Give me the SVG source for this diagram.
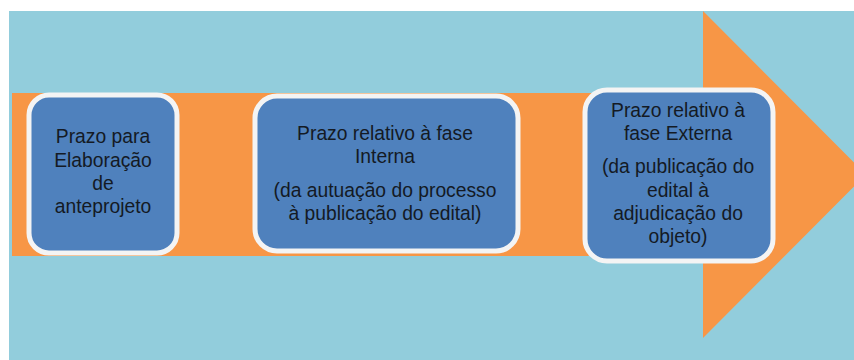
<svg xmlns="http://www.w3.org/2000/svg" width="854" height="360" viewBox="0 0 854 360">
<style>
.box{fill:#4F81BD;stroke:#F4F4F4;stroke-width:5}
.t{font-family:"Liberation Sans",Arial,sans-serif;font-size:19.3px;fill:#141a24;text-anchor:middle}
</style>
<rect x="0" y="0" width="854" height="360" fill="#FFFFFF"/>
<rect x="9" y="11" width="845" height="349" fill="#92CDDC"/>
<g id="arrow">
<polygon points="12,93 703,93 703,11 866,174.5 703,338 703,256 12,256" fill="#F79646"/>
</g>
<g id="connectors"></g>
<g id="node1">
<rect class="box" x="29" y="95" width="148" height="158" rx="20"/>
<text class="t" x="103" y="143">Prazo para</text>
<text class="t" x="103" y="167">Elaboração</text>
<text class="t" x="103" y="190">de</text>
<text class="t" x="103" y="213">anteprojeto</text>
</g>
<g id="node2">
<rect class="box" x="255" y="96" width="263" height="155" rx="22"/>
<text class="t" x="385" y="140">Prazo relativo à fase</text>
<text class="t" x="385" y="163">Interna</text>
<text class="t" x="385" y="197">(da autuação do processo</text>
<text class="t" x="385" y="220">à publicação do edital)</text>
</g>
<g id="node3">
<rect class="box" x="585" y="90" width="188" height="171" rx="22"/>
<text class="t" x="678" y="117">Prazo relativo à</text>
<text class="t" x="678" y="140">fase Externa</text>
<text class="t" x="678" y="173">(da publicação do</text>
<text class="t" x="678" y="197">edital à</text>
<text class="t" x="678" y="220">adjudicação do</text>
<text class="t" x="678" y="243">objeto)</text>
</g>
</svg>
